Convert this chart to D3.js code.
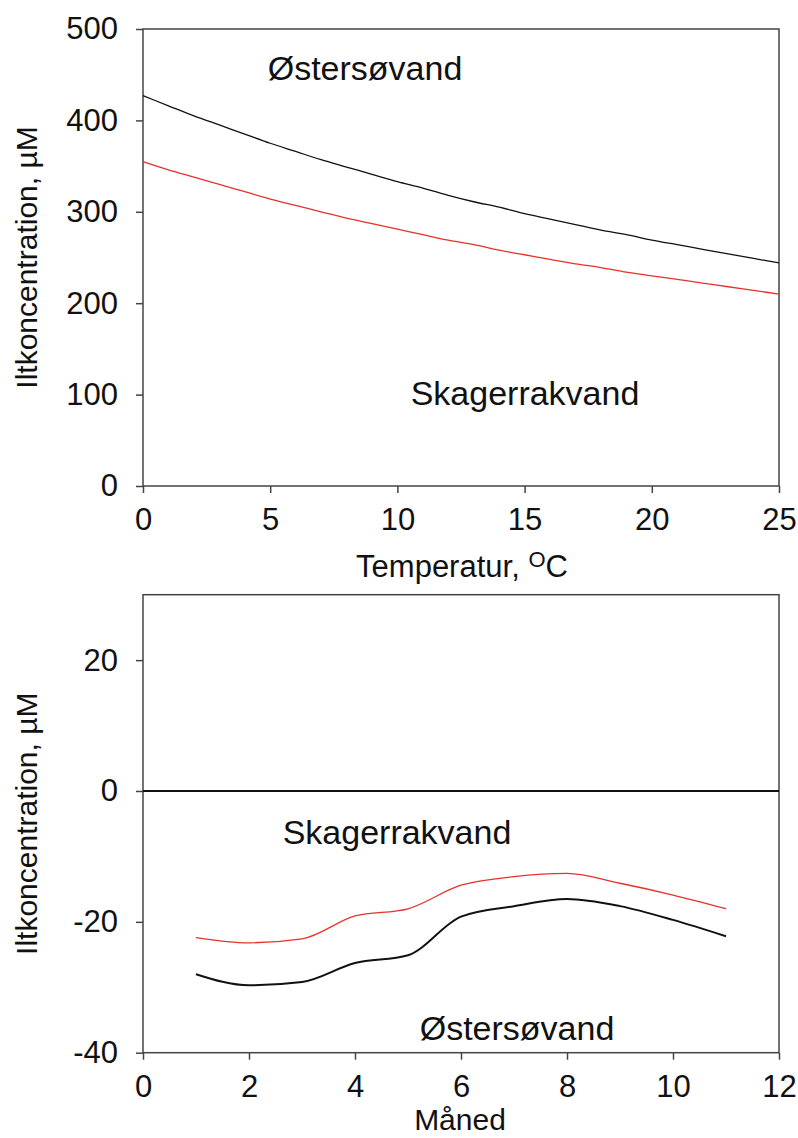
<!DOCTYPE html>
<html><head><meta charset="utf-8">
<script src="https://cdn.jsdelivr.net/npm/d3@7"></script>
<style>body{margin:0;background:#fff}text{font-family:"Liberation Sans",Arial,sans-serif;fill:#111}</style>
</head><body>
<svg id="c" width="798" height="1138"></svg>
<script>
// Top panel data: oxygen saturation concentration (µM) vs temperature (°C)
const temps = d3.range(0, 26);
const baltic = [427,416,405,395,385,375,366,357,349,341,333,326,318,311,305,298,292,286,280,275,269,264,259,254,249,244];
const skagerrak = [355,346,338,330,322,314,307,300,293,287,281,275,269,264,258,253,248,243,239,234,230,226,222,218,214,210];
const topXTicks = [0,5,10,15,20,25];
const topYTicks = [0,100,200,300,400,500];

// Bottom panel data: monthly deviation (µM)
const months = [1,2,3,4,5,6,7,8,9,10,11];
const balticMonthly = [-28.0,-29.7,-29.2,-26.3,-25.1,-19.2,-17.6,-16.5,-17.6,-19.7,-22.2];
const skagerrakMonthly = [-22.4,-23.2,-22.6,-19.1,-18.0,-14.4,-13.1,-12.6,-14.1,-15.9,-18.0];
const botXTicks = [0,2,4,6,8,10,12];
const botYTicks = [-40,-20,0,20];

const svg = d3.select("#c");
const L = 143, R = 779;
const FS = 31, FA = 34;

function frame(g, x, y, xticks, yticks) {
  const xa = g.append("g").attr("transform", `translate(0,${y.range()[0]})`)
    .call(d3.axisBottom(x).tickValues(xticks).tickSize(7).tickPadding(15).tickFormat(d => String(d)));
  const ya = g.append("g").attr("transform", `translate(${x.range()[0]},0)`)
    .call(d3.axisLeft(y).tickValues(yticks).tickSize(7).tickPadding(18).tickFormat(d => String(d)));
  [xa, ya].forEach(a => {
    a.selectAll("path,line").attr("stroke", "#444").attr("stroke-width", 1.5);
    a.select(".domain").attr("d", null);
    a.selectAll("text").attr("font-size", FS).attr("font-family", "Liberation Sans, Arial, sans-serif").attr("fill", "#111");
  });
  g.append("rect").attr("x", x.range()[0]).attr("y", y.range()[1])
    .attr("width", x.range()[1] - x.range()[0]).attr("height", y.range()[0] - y.range()[1])
    .attr("fill", "none").attr("stroke", "#444").attr("stroke-width", 1.5);
}

// ---- Top panel
const xT = d3.scaleLinear().domain([0,25]).range([L,R]);
const yT = d3.scaleLinear().domain([0,500]).range([486,29]);
const gT = svg.append("g");
frame(gT, xT, yT, topXTicks, topYTicks);
const lineT = d3.line().x((d,i)=>xT(temps[i])).y(d=>yT(d)).curve(d3.curveMonotoneX);
gT.append("path").attr("d", lineT(baltic)).attr("fill","none").attr("stroke","#111").attr("stroke-width",1.3);
gT.append("path").attr("d", lineT(skagerrak)).attr("fill","none").attr("stroke","#e8312b").attr("stroke-width",1.3);
gT.append("text").attr("x", 365).attr("y", 80).attr("text-anchor","middle").attr("font-size", FA).text("Østersøvand");
gT.append("text").attr("x", 525).attr("y", 405).attr("text-anchor","middle").attr("font-size", FA).text("Skagerrakvand");
gT.append("text").attr("transform", `translate(37,${(29+486)/2}) rotate(-90)`).attr("text-anchor","middle").attr("font-size", FS-1).text("Iltkoncentration, µM");
const tt = gT.append("text").attr("x", 462).attr("y", 577).attr("text-anchor","middle").attr("font-size", FS);
tt.append("tspan").text("Temperatur, ");
tt.append("tspan").attr("font-size", 22).attr("dy", -10).text("O");
tt.append("tspan").attr("dy", 10).text("C");

// ---- Bottom panel
const xB = d3.scaleLinear().domain([0,12]).range([L,R]);
const yB = d3.scaleLinear().domain([-40,30]).range([1052.7,594.7]);
const gB = svg.append("g");
frame(gB, xB, yB, botXTicks, botYTicks);
gB.append("line").attr("x1", xB(0)).attr("x2", xB(12)).attr("y1", yB(0)).attr("y2", yB(0)).attr("stroke","#111").attr("stroke-width",2);
const lineB = d3.line().x((d,i)=>xB(months[i])).y(d=>yB(d)).curve(d3.curveMonotoneX);
gB.append("path").attr("d", lineB(balticMonthly)).attr("fill","none").attr("stroke","#111").attr("stroke-width",2);
gB.append("path").attr("d", lineB(skagerrakMonthly)).attr("fill","none").attr("stroke","#e8312b").attr("stroke-width",1.3);
gB.append("text").attr("x", 397).attr("y", 844).attr("text-anchor","middle").attr("font-size", FA).text("Skagerrakvand");
gB.append("text").attr("x", 517).attr("y", 1040).attr("text-anchor","middle").attr("font-size", FA).text("Østersøvand");
gB.append("text").attr("transform", `translate(37,${(594.7+1052.7)/2}) rotate(-90)`).attr("text-anchor","middle").attr("font-size", FS-1).text("Iltkoncentration, µM");
gB.append("text").attr("x", 460).attr("y", 1130).attr("text-anchor","middle").attr("font-size", FS - 1).text("Måned");
</script>
</body></html>
